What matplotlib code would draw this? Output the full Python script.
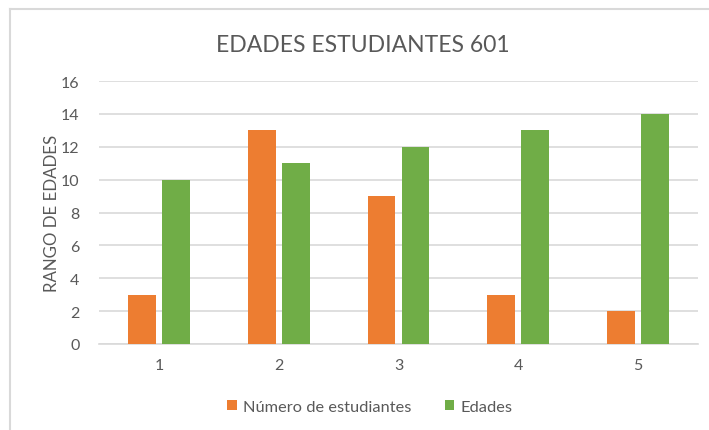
import matplotlib.pyplot as plt
from matplotlib.lines import Line2D
import numpy as np

categories = ["1", "2", "3", "4", "5"]
estudiantes = [3, 13, 9, 3, 2]
edades = [10, 11, 12, 13, 14]

plt.rcParams['font.family'] = ['Lato', 'DejaVu Sans']
txt = '#595959'
grid = '#D9D9D9'

fig = plt.figure(figsize=(7.09, 4.31), dpi=100)
W, H = 709, 431
ax = fig.add_axes([99 / W, (H - 345) / H, (698 - 99) / W, (345 - 82) / H])

x = np.arange(len(categories))
w = 0.233
off = 0.142
ax.bar(x - off, estudiantes, w, color='#ED7D31', label='Número de estudiantes', zorder=3)
ax.bar(x + off, edades, w, color='#70AD47', label='Edades', zorder=3)

ax.set_xlim(-0.5, 4.5)
ax.set_ylim(0, 16)
ax.set_yticks(range(0, 17, 2))
ax.set_xticks(x)
ax.set_xticklabels(categories)
ax.yaxis.grid(True, color=grid, linewidth=1.2, zorder=0)
for s in ['top', 'right', 'left']:
    ax.spines[s].set_visible(False)
ax.spines['bottom'].set_color(grid)
ax.spines['bottom'].set_linewidth(1.2)
ax.tick_params(axis='both', length=0, colors=txt, labelsize=11.5)
ax.tick_params(axis='x', pad=10)
ax.tick_params(axis='y', pad=14)

ax.set_ylabel('RANGO DE EDADES', color=txt, fontsize=12.2, labelpad=1)
fig.text(363 / W, (H - 45) / H, 'EDADES ESTUDIANTES 601', ha='center', va='center',
         color=txt, fontsize=16.5)

ax.legend(loc='center', bbox_to_anchor=(370 / W, (H - 408) / H), bbox_transform=fig.transFigure,
          ncol=2, frameon=False, fontsize=11.8, labelcolor=txt, handlelength=0.6,
          handleheight=0.6, columnspacing=2.0, handletextpad=0.4)

# chart border
fig.add_artist(Line2D([10 / W, 10 / W], [0, (H - 10) / H], color=grid, lw=1.5))
fig.add_artist(Line2D([10 / W, 1], [(H - 10) / H, (H - 10) / H], color=grid, lw=1.5))

fig.savefig('out.png', dpi=100)
